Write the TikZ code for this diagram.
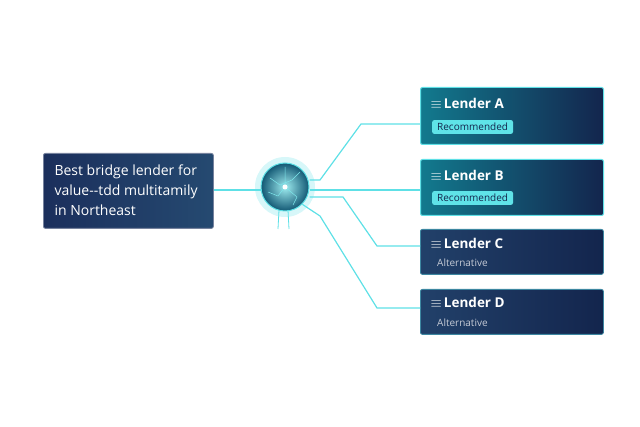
\documentclass[tikz,border=0pt]{standalone}
\usepackage{fontspec}
\setmainfont{Open Sans}
\usetikzlibrary{shadings}
\definecolor{cyanl}{HTML}{5EE0E6}
\definecolor{navy}{HTML}{1B2F5C}
\definecolor{navyd}{HTML}{13254D}
\definecolor{teal}{HTML}{127A8E}
\definecolor{tagc}{HTML}{5FE3E8}
\begin{document}
\begin{tikzpicture}[x=1pt,y=-1pt,
  conn/.style={draw=cyanl,line width=1.2pt},
  query/.style={draw=navy!60!white,line width=0.8pt,rounded corners=2pt,left color=navy,right color=navy!85!cyanl,minimum width=170pt,minimum height=75pt,anchor=north west},
  rec/.style={draw=cyanl,line width=1pt,rounded corners=2pt,left color=teal,right color=navyd,minimum width=183pt,anchor=north west},
  alt/.style={draw=navy!50!cyanl,line width=0.8pt,rounded corners=2pt,left color=navy!90!cyanl,right color=navyd,minimum width=183pt,anchor=north west},
  title/.style={text=white,font=\bfseries\fontsize{13.5}{15}\selectfont,anchor=west},
  tag/.style={fill=tagc,rounded corners=2pt,text=navyd,font=\fontsize{10}{11}\selectfont,anchor=west,inner xsep=5pt,inner ysep=3pt},
  atag/.style={text=white!75!navy,font=\fontsize{10}{11}\selectfont,anchor=west,inner xsep=5pt,inner ysep=3pt}]
\useasboundingbox (0,0) rectangle (640,427);
\node[query] (q) at (43,153) {};
\node[text=white,font=\fontsize{14}{20}\selectfont,align=left,anchor=north west] at (51,161) {Best bridge lender for\\value{-}{-}tdd multitamily\\in Northeast};
\node[rec,minimum height=57pt] (a) at (420,87) {};
\node[rec,minimum height=56pt] (b) at (420,159) {};
\node[alt,minimum height=45pt] (c) at (420,229) {};
\node[alt,minimum height=45pt] (d) at (420,289) {};
\node[title] at (427,103) {\(\equiv\)\,Lender A};
\node[tag] at (432,127) {Recommended};
\node[title] at (427,175) {\(\equiv\)\,Lender B};
\node[tag] at (432,198) {Recommended};
\node[title] at (427,243) {\(\equiv\)\,Lender C};
\node[atag] at (432,263) {Alternative};
\node[title] at (427,302) {\(\equiv\)\,Lender D};
\node[atag] at (432,323) {Alternative};
% hub
\fill[cyanl,opacity=0.25] (285,187) circle (30);
\node[circle,minimum size=48pt,inner sep=0pt,draw=cyanl,line width=1pt,inner color=white!40!cyanl,outer color=teal!60!navyd] (h) at (285,187) {};
\draw[cyanl!80!white,line width=0.5pt] (270,178) -- (280,185) -- (292,180) (278,196) -- (285,187) -- (297,197) (285,167) -- (285,187) (268,192)--(278,196) (292,180)--(300,172) (297,197)--(293,205);
\fill[white] (285,187) circle (2.5);
\draw[conn,line width=0.8pt] (279,210) -- (278,229) (288,210) -- (289,229);
\coordinate (a1) at (320,180); \coordinate (a2) at (361,124);
\coordinate (c1) at (343,197); \coordinate (c2) at (377,246);
\coordinate (d1) at (320,216); \coordinate (d2) at (377,308);
\draw[conn] (q.east |- 0,190) -- (h.west |- 0,190);
\draw[conn] (h.east |- 0,180) -- (a1) -- (a2) -- (a.west |- a2);
\draw[conn] (h.east |- 0,190) -- (b.west |- 0,190);
\draw[conn] (h.east |- 0,197) -- (c1) -- (c2) -- (c.west |- c2);
\draw[conn] (h.south east) -- (d1) -- (d2) -- (d.west |- d2);
\end{tikzpicture}
\end{document}
